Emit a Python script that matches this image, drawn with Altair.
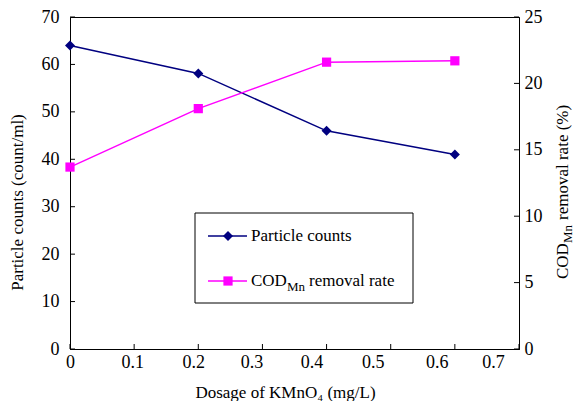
import altair as alt
import pandas as pd

# ---- data ----
dosage = [0.0, 0.2, 0.4, 0.6]
particle_counts = [64.0, 58.1, 46.0, 41.0]
cod_removal = [13.7, 18.1, 21.6, 21.7]
x_ticks = [0, 0.1, 0.2, 0.3, 0.4, 0.5, 0.6, 0.7]
left_ticks = [0, 10, 20, 30, 40, 50, 60, 70]
right_ticks = [0, 5, 10, 15, 20, 25]

FONT = "'Liberation Serif', 'Times New Roman', Times, 'DejaVu Serif', serif"
W, H = 449, 332
BLUE = "#000080"
MAG = "#FF00FF"

df = pd.DataFrame({"dosage": dosage, "particles": particle_counts, "cod": cod_removal})
one = pd.DataFrame({"a": [0]})

xscale = alt.Scale(domain=[0, 0.7], nice=False, zero=False)
ylscale = alt.Scale(domain=[0, 70], nice=False)
yrscale = alt.Scale(domain=[0, 25], nice=False)

# x tick labels drift slightly to the left in the reference
label_shift = {"condition": [
    {"test": "abs(datum.value - 0.1) < 0.001", "value": -2},
    {"test": "abs(datum.value - 0.2) < 0.001", "value": -5},
    {"test": "abs(datum.value - 0.3) < 0.001", "value": -11},
    {"test": "abs(datum.value - 0.4) < 0.001", "value": -15},
    {"test": "abs(datum.value - 0.5) < 0.001", "value": -18},
    {"test": "abs(datum.value - 0.6) < 0.001", "value": -18},
    {"test": "abs(datum.value - 0.7) < 0.001", "value": -26},
], "value": 0}

x_axis = alt.Axis(values=x_ticks, format="~g", ticks=False, grid=False,
                  domainColor="black", labelPadding=4, labelFlush=False,
                  labelOffset=label_shift,
                  title="Dosage of KMnO\u2084 (mg/L)", titleX=215, titleY=43,
                  titleBaseline="middle", titleAnchor="start", titleAlign="center",
                  titleFontSize=17)
yl_axis = alt.Axis(values=left_ticks, ticks=False, grid=False, domainColor="black",
                   labelPadding=11, labelFlush=False, title="Particle counts (count/ml)",
                   titleX=-53, titleY=185, titleAngle=270, titleBaseline="middle",
                   titleAlign="center", titleAnchor="start", titleFontSize=17)
yr_axis = alt.Axis(orient="right", values=right_ticks, ticks=False, grid=False,
                   domainColor="black", labelPadding=5, labelFlush=False, title=None)

line1 = alt.Chart(df).mark_line(color=BLUE, strokeWidth=1.5).encode(
    x=alt.X("dosage:Q", scale=xscale, axis=x_axis),
    y=alt.Y("particles:Q", scale=ylscale, axis=yl_axis))
pts1 = alt.Chart(df).mark_point(shape="diamond", filled=True, size=100, color=BLUE,
                                opacity=1).encode(
    x=alt.X("dosage:Q", scale=xscale, axis=x_axis),
    y=alt.Y("particles:Q", scale=ylscale, axis=yl_axis))
ticks_l = alt.Chart(pd.DataFrame({"v": left_ticks})).mark_rule(color="black").encode(
    y=alt.Y("v:Q", scale=ylscale, axis=yl_axis), x=alt.value(0), x2=alt.value(5))
ticks_x = alt.Chart(pd.DataFrame({"v": x_ticks})).mark_rule(color="black").encode(
    x=alt.X("v:Q", scale=xscale, axis=x_axis), y=alt.value(H), y2=alt.value(H - 5))
left = alt.layer(line1, pts1, ticks_l, ticks_x)

line2 = alt.Chart(df).mark_line(color=MAG, strokeWidth=1.5).encode(
    x=alt.X("dosage:Q", scale=xscale, axis=x_axis),
    y=alt.Y("cod:Q", scale=yrscale, axis=yr_axis))
pts2 = alt.Chart(df).mark_point(shape="square", filled=True, size=85, color=MAG,
                                opacity=1).encode(
    x=alt.X("dosage:Q", scale=xscale, axis=x_axis),
    y=alt.Y("cod:Q", scale=yrscale, axis=yr_axis))
ticks_r = alt.Chart(pd.DataFrame({"v": right_ticks})).mark_rule(color="black").encode(
    y=alt.Y("v:Q", scale=yrscale, axis=yr_axis), x=alt.value(W), x2=alt.value(W - 5))
right = alt.layer(line2, pts2, ticks_r)

# ---- legend box ----
box = alt.Chart(one).mark_rect(fill="white", stroke="black", strokeWidth=1).encode(
    x=alt.value(125), x2=alt.value(343), y=alt.value(196), y2=alt.value(286))
lg_l1 = alt.Chart(one).mark_rule(color=BLUE, strokeWidth=1.5).encode(
    x=alt.value(138), x2=alt.value(177), y=alt.value(219))
lg_p1 = alt.Chart(one).mark_point(shape="diamond", filled=True, size=100, color=BLUE,
                                  opacity=1).encode(x=alt.value(158), y=alt.value(219))
lg_l2 = alt.Chart(one).mark_rule(color=MAG, strokeWidth=1.5).encode(
    x=alt.value(138), x2=alt.value(177), y=alt.value(264))
lg_p2 = alt.Chart(one).mark_point(shape="square", filled=True, size=85, color=MAG,
                                  opacity=1).encode(x=alt.value(158), y=alt.value(264))

def txt(s, x, y, size=17, angle=0):
    return alt.Chart(one).mark_text(text=s, font=FONT, fontSize=size, color="black",
                                    align="left", baseline="middle", angle=angle).encode(
        x=alt.value(x), y=alt.value(y))

lg_t1 = txt("Particle counts", 181, 219)
lg_t2a = txt("COD", 181, 264)
lg_t2b = txt("Mn", 217, 270, size=13)
lg_t2c = txt("removal rate", 239, 264)

# ---- right axis title with subscript ----
rt_a = txt("COD", 493, 262, angle=270)
rt_b = txt("Mn", 498, 226, size=13, angle=270)
rt_c = txt("removal rate (%)", 493, 203, angle=270)

chart = alt.layer(
    left, right, box, lg_l1, lg_p1, lg_l2, lg_p2, lg_t1, lg_t2a, lg_t2b, lg_t2c,
    rt_a, rt_b, rt_c
).resolve_scale(y="independent").properties(
    width=W, height=H,
    padding={"left": 70, "top": 17, "right": 57, "bottom": 52},
    autosize=alt.AutoSizeParams(type="none"),
    background="white",
).configure_view(stroke="black", strokeWidth=1).configure_axis(
    labelFont=FONT, labelFontSize=18, labelColor="black",
    titleFont=FONT, titleFontSize=17, titleFontWeight="normal", titleColor="black",
    domainWidth=1,
)

chart.save("out.html", embed_options={"renderer": "svg", "actions": False})
